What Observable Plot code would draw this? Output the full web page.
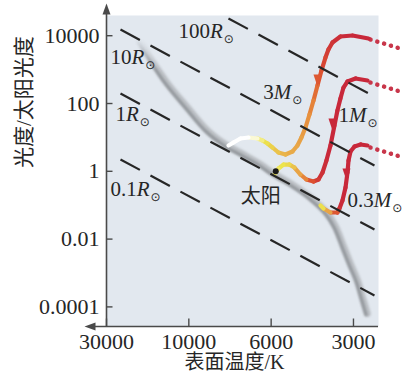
<!DOCTYPE html>
<html>
<head>
<meta charset="utf-8">
<script src="https://cdn.jsdelivr.net/npm/d3@7"></script>
<script src="https://cdn.jsdelivr.net/npm/@observablehq/plot@0.6"></script>
<style>
  html, body { margin: 0; padding: 0; background: #ffffff; }
</style>
</head>
<body>
<script>
// ---- Axis ticks -------------------------------------------------------------
const tempTicks = [30000, 10000, 6000, 3000];            // surface temperature, K
const tempTickLabels = ["30000", "10000", "6000", "3000"];
const lumTicks = [10000, 100, 1, 0.01, 0.0001];           // luminosity, L☉
const lumTickLabels = ["10000", "100", "1", "0.01", "0.0001"];

// ---- Main sequence ------------------------------------------------------------
const msTemp = [19320, 16680, 13290, 10180, 8910, 7970, 7120, 6410, 5880, 5100, 4310, 3740, 3490, 3260, 3080, 2900, 2780, 2670];
const msLum  = [7220, 2125, 389, 76, 16, 6.2, 3.1, 1.6, 0.86, 0.44, 0.17, 0.057, 0.0235, 0.006, 0.0019, 0.0006, 0.00019, 0.000064];

// ---- Lines of constant radius -------------------------------------------------
const radiusNames = ["100R⊙", "10R⊙", "1R⊙", "0.1R⊙"];
const radiusT1 = [7819, 24890, 24890, 24890];
const radiusL1 = [32170, 15240, 197, 2.23];
const radiusT2 = [2514, 2514, 2514, 2514];
const radiusL2 = [161, 1.48, 0.0192, 0.000217];
const radiusLabelT = [11480, 28440, 26600, 28440];
const radiusLabelL = [13300, 2350, 49, 0.29];

// ---- Pre-main-sequence tracks (stage: 0 = cool red start, 1 = white-hot end) --
const track3T = [2644, 3025, 3348, 3580, 3704, 3798, 3928, 4062, 4200, 4345, 4493, 4649, 4808, 5014, 5318, 5641, 5933, 6138, 6331, 6531, 6906, 7258, 7580, 7819];
const track3L = [8270, 10140, 9470, 6300, 3917, 2275, 941, 340, 122.6, 47.4, 19.6, 9.93, 5.77, 3.84, 3.13, 3.59, 5.04, 6.61, 8.10, 9.28, 9.93, 9.28, 7.07, 5.77];
const track3Stage = [0, 0, 0.03, 0.08, 0.13, 0.18, 0.26, 0.36, 0.45, 0.52, 0.58, 0.62, 0.65, 0.68, 0.7, 0.74, 0.78, 0.82, 0.86, 0.93, 1, 1, 1, 1];

const track1T = [2666, 2949, 3155, 3263, 3348, 3434, 3521, 3641, 3767, 3893, 4027, 4200, 4457, 4688, 4931, 5142, 5408, 5641, 5834];
const track1L = [477, 546, 446, 296, 140, 62.2, 22.4, 5.77, 2.08, 0.922, 0.573, 0.5, 0.573, 0.805, 1.29, 1.58, 1.58, 1.21, 0.82];
const track1Stage = [0, 0, 0, 0, 0, 0, 0, 0, 0.02, 0.05, 0.1, 0.2, 0.4, 0.58, 0.72, 0.8, 0.84, 0.86, 0.88];

const track03T = [2666, 2827, 2974, 3076, 3128, 3155, 3208, 3291, 3376, 3434, 3641, 3860, 3960];
const track03L = [5.77, 6.18, 5.39, 3.84, 2.08, 0.922, 0.333, 0.138, 0.08, 0.0609, 0.0609, 0.08, 0.098];
const track03Stage = [0, 0, 0, 0, 0, 0, 0, 0, 0.05, 0.15, 0.5, 0.8, 0.88];

// dotted earlier phases, leading into each track
const dottedT1 = [2600, 2600, 2600];
const dottedL1 = [7730, 416, 5.04];
const dottedT2 = [1970, 1970, 1970];
const dottedL2 = [3920, 211, 2.55];

// direction arrows on the tracks
const arrowT = [4062, 3580, 3182];
const arrowL = [477, 24, 0.805];
const arrowStage = [0.33, 0, 0];

const massNames = ["3M⊙", "1M⊙", "0.3M⊙"];
const massLabelT = [6300, 3405, 3155];
const massLabelL = [211, 46, 0.138];

const sunT = 5772, sunL = 1;

// ---- Scale helpers ---------------------------------------------------------------
// the temperature axis puts its labelled temperatures at equal steps
const tpos = d3.scaleLog().domain(tempTicks).range(tempTicks.map((d, i) => i));
const lumMin = 2.64e-5, lumMax = 3.95e4;
const tempMinEdge = 2430;          // right edge of the panel
const lumArrow = 42200;            // base of the luminosity axis arrow
const tempArrow = 34740;           // base of the temperature axis arrow

const W = 417, H = 385, mTop = 15, mBottom = 59;
const yPix = d3.scaleLog().domain([lumMin, lumMax]).range([H - mBottom, mTop]);

const stageStops = [0, 0.3, 0.5, 0.7, 0.85, 1];
const stageColors = ["#c8283a", "#dc5030", "#e6873a", "#e8ad4a", "#ece44c", "#ffffff"];

const axisColor = "#4a4a4a";
const inkColor = "#262626";

function segments(T, L, S) {
  return d3.range(T.length - 1).map(i => ({
    x1: tpos(T[i]), y1: L[i], x2: tpos(T[i + 1]), y2: L[i + 1], s: (S[i] + S[i + 1]) / 2
  }));
}
const trackSegs = [
  ...segments(track3T, track3L, track3Stage),
  ...segments(track1T, track1L, track1Stage),
  ...segments(track03T, track03L, track03Stage)
];
const ms = msTemp.map((t, i) => ({x: tpos(t), y: msLum[i]}));
const radiusLines = radiusNames.map((n, i) => ({x1: tpos(radiusT1[i]), y1: radiusL1[i], x2: tpos(radiusT2[i]), y2: radiusL2[i]}));
const dotted = dottedT1.map((t, i) => ({x1: tpos(t), y1: dottedL1[i], x2: tpos(dottedT2[i]), y2: dottedL2[i]}));
const arrows = arrowT.map((t, i) => ({x: tpos(t), y: arrowL[i], s: arrowStage[i]}));
const radiusLabels = radiusNames.map((n, i) => ({x: tpos(radiusLabelT[i]), y: radiusLabelL[i], text: n}));
const massLabels = massNames.map((n, i) => ({x: tpos(massLabelT[i]), y: massLabelL[i], text: n}));

// custom symbols
const tickRight = {draw(c) { c.moveTo(0, 0); c.lineTo(6, 0); }};
const tickUp = {draw(c) { c.moveTo(0, 0); c.lineTo(0, -8); }};
const headUp = {draw(c) { c.moveTo(-4, 0); c.lineTo(4, 0); c.lineTo(0, -11); c.closePath(); }};
const headLeft = {draw(c) { c.moveTo(0, -4); c.lineTo(0, 4); c.lineTo(-11, 0); c.closePath(); }};
const headDown = {draw(c) { c.moveTo(-4, -6); c.lineTo(4, -6); c.lineTo(0, 6); c.closePath(); }};

const x0 = tpos(30000);

const chart = Plot.plot({
  width: W,
  height: H,
  marginLeft: 106,
  marginRight: 39,
  marginTop: mTop,
  marginBottom: mBottom,
  style: {fontFamily: "'Liberation Serif', 'Noto Sans CJK SC', serif", color: inkColor, background: "#ffffff"},
  x: {type: "linear", domain: [x0, tpos(tempMinEdge)], axis: null},
  y: {type: "log", domain: [lumMin, lumMax], axis: null},
  color: {type: "linear", domain: stageStops, range: stageColors},
  marks: [
    Plot.frame({fill: "#e2e8ef", stroke: "none"}),
    // main sequence band: pale body with a darker lower edge
    Plot.line(ms, {x: "x", y: "y", curve: "catmull-rom", stroke: "#bcc0c5", strokeWidth: 7, strokeLinecap: "round", ariaDescription: "main sequence"}),
    Plot.line(ms, {x: "x", y: "y", curve: "catmull-rom", stroke: "#93979c", strokeWidth: 3, strokeLinecap: "round", dx: -1.2, dy: 1.2, ariaDescription: "main sequence"}),
    // evolution tracks
    Plot.link(dotted, {x1: "x1", y1: "y1", x2: "x2", y2: "y2", stroke: "#c8364a", strokeWidth: 4.5, strokeLinecap: "round", strokeDasharray: "0.1 7"}),
    Plot.link(trackSegs, {x1: "x1", y1: "y1", x2: "x2", y2: "y2", stroke: "s", strokeWidth: 4.2, strokeLinecap: "round"}),
    Plot.dot(arrows, {x: "x", y: "y", symbol: headDown, fill: "s", stroke: "none"}),
    // constant radius lines
    Plot.link(radiusLines, {x1: "x1", y1: "y1", x2: "x2", y2: "y2", stroke: "#262626", strokeWidth: 2.2, strokeDasharray: "22 12"}),
    // the Sun
    Plot.dot([{x: tpos(sunT), y: sunL}], {x: "x", y: "y", r: 3, fill: "#1a1a1a", stroke: "none"}),
    Plot.text([{x: tpos(sunT), y: sunL}], {x: "x", y: "y", text: () => "太阳", dx: -15, dy: 25, fontSize: 20, fill: inkColor}),
    // axes
    Plot.ruleX([x0], {x: d => d, y1: () => lumMin, y2: () => lumArrow, stroke: axisColor, strokeWidth: 1.6}),
    Plot.ruleY([lumMin], {y: d => d, x1: () => tpos(tempMinEdge), x2: () => tpos(tempArrow), stroke: axisColor, strokeWidth: 1.6}),
    Plot.dot([lumArrow], {x: () => x0, y: d => d, symbol: headUp, fill: axisColor, stroke: "none"}),
    Plot.dot([tempArrow], {x: d => tpos(d), y: () => lumMin, symbol: headLeft, fill: axisColor, stroke: "none"}),
    Plot.dot(lumTicks, {x: () => x0, y: d => d, symbol: tickRight, stroke: axisColor, strokeWidth: 1.4}),
    Plot.dot(tempTicks, {x: d => tpos(d), y: () => lumMin, symbol: tickUp, stroke: axisColor, strokeWidth: 1.4}),
    Plot.text(lumTicks, {x: () => x0, y: d => d, text: (d, i) => lumTickLabels[i], textAnchor: "end", dx: -7, fontSize: 22, fill: inkColor}),
    Plot.text(tempTicks, {x: d => tpos(d), y: () => lumMin, text: (d, i) => tempTickLabels[i], dy: 15, fontSize: 22, fill: inkColor}),
    Plot.text(["光度/太阳光度"], {text: d => d, frameAnchor: "left", rotate: -90, dx: -82, dy: -3, fontSize: 21, fill: inkColor}),
    Plot.text(["表面温度/K"], {text: d => d, frameAnchor: "bottom", dx: -8, dy: 42, fontSize: 20, fill: inkColor}),
    // labels
    Plot.text(radiusLabels, {x: "x", y: "y", text: "text", textAnchor: "start", fontSize: 21, fill: inkColor}),
    Plot.text(massLabels, {x: "x", y: "y", text: "text", textAnchor: "start", fontSize: 21, fill: inkColor})
  ]
});

// soften the main-sequence band and fade its luminous end
const ns = "http://www.w3.org/2000/svg";
const defs = document.createElementNS(ns, "defs");
defs.innerHTML =
  `<filter id="msBlur" filterUnits="userSpaceOnUse" x="0" y="0" width="${W}" height="${H}">` +
  `<feGaussianBlur stdDeviation="0.9"/></filter>` +
  `<linearGradient id="msFadeGrad" gradientUnits="userSpaceOnUse" x1="0" y1="${yPix(8000)}" x2="0" y2="${yPix(900)}">` +
  `<stop offset="0" stop-color="#000"/><stop offset="1" stop-color="#fff"/></linearGradient>` +
  `<mask id="msFade" maskUnits="userSpaceOnUse" x="0" y="0" width="${W}" height="${H}">` +
  `<rect x="0" y="0" width="${W}" height="${H}" fill="url(#msFadeGrad)"/></mask>`;
chart.insertBefore(defs, chart.firstChild);
for (const g of chart.querySelectorAll('[aria-description="main sequence"]')) {
  const wrap = document.createElementNS(ns, "g");
  wrap.setAttribute("filter", "url(#msBlur)");
  wrap.setAttribute("mask", "url(#msFade)");
  g.parentNode.insertBefore(wrap, g);
  wrap.appendChild(g);
}

// italic R / M and subscript solar symbol
for (const t of chart.querySelectorAll("text")) {
  const m = /^([\d.]+)([RM])⊙$/.exec(t.textContent);
  if (!m) continue;
  t.textContent = "";
  const a = document.createElementNS(ns, "tspan");
  a.textContent = m[1];
  const b = document.createElementNS(ns, "tspan");
  b.textContent = m[2];
  b.setAttribute("font-style", "italic");
  const c = document.createElementNS(ns, "tspan");
  c.textContent = "⊙";
  c.setAttribute("font-size", "12");
  c.setAttribute("font-family", "DejaVu Sans");
  c.setAttribute("dx", "1");
  c.setAttribute("dy", "5");
  t.append(a, b, c);
}

document.body.appendChild(chart);
</script>
</body>
</html>
